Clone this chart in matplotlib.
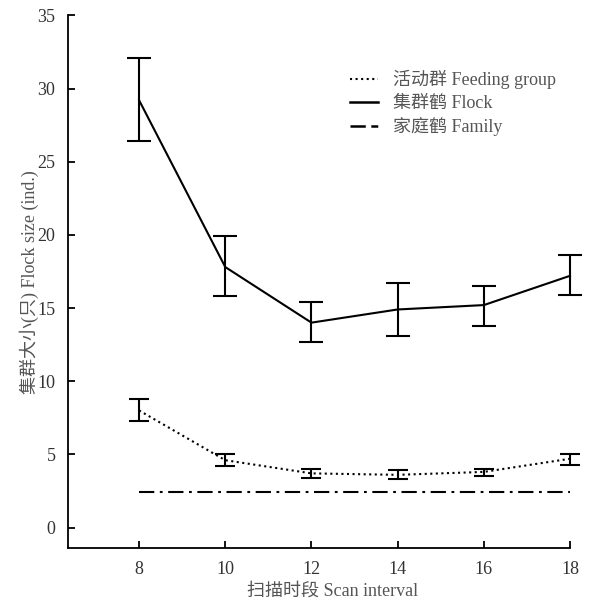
import matplotlib
matplotlib.use("Agg")
import matplotlib.pyplot as plt
from matplotlib.lines import Line2D

plt.rcParams['font.family'] = ['Liberation Serif', 'Noto Sans CJK SC', 'DejaVu Sans']
plt.rcParams['lines.scale_dashes'] = False

scan = [8, 10, 12, 14, 16, 18]
flock_mean = [29.2, 17.8, 14.0, 14.9, 15.2, 17.2]
flock_hi = [32.1, 19.9, 15.4, 16.7, 16.5, 18.6]
flock_lo = [26.4, 15.8, 12.7, 13.1, 13.8, 15.9]
feed_mean = [8.0, 4.6, 3.7, 3.6, 3.8, 4.7]
feed_hi = [8.8, 5.0, 4.0, 3.9, 4.0, 5.0]
feed_lo = [7.3, 4.2, 3.4, 3.3, 3.5, 4.3]
family = [2.4, 2.4, 2.4, 2.4, 2.4, 2.4]

xticks = [8, 10, 12, 14, 16, 18]
yticks = [0, 5, 10, 15, 20, 25, 30, 35]

fig = plt.figure(figsize=(5.91, 6.06), dpi=100)
ax = fig.add_axes([0.115, 0.0957, 0.8495, 0.879])

def err(m, hi, lo):
    return [[a - b for a, b in zip(m, lo)], [b - a for a, b in zip(m, hi)]]

ax.errorbar(scan, flock_mean, yerr=err(flock_mean, flock_hi, flock_lo),
            color='black', lw=1.5, elinewidth=1.5, capsize=8.5, capthick=1.5,
            clip_on=False)
ax.errorbar(scan, feed_mean, yerr=err(feed_mean, feed_hi, feed_lo),
            color='black', lw=1.5, ls=(0, (1.5, 2.5)), elinewidth=1.5,
            capsize=7.5, capthick=1.5, clip_on=False)
ax.plot(scan, family, color='black', lw=1.5, ls=(0, (11, 4, 2, 4)), clip_on=False)

ax.set_xlim(6.35, 18)
ax.set_ylim(-1.4, 35)
ax.set_xticks(xticks)
ax.set_yticks(yticks)
ax.spines['top'].set_visible(False)
ax.spines['right'].set_visible(False)
for s in ['left', 'bottom']:
    ax.spines[s].set_linewidth(1.3)
ax.tick_params(direction='in', length=5, width=1.3, labelsize=13,
               labelcolor='#333333')
ax.tick_params(axis='y', pad=9)
ax.tick_params(axis='x', pad=9)

ax.set_xlabel('扫描时段 Scan interval', fontsize=13, color='#555555', labelpad=4)
ax.xaxis.label.set_x(0.527)
ax.set_ylabel('集群大小(只) Flock size (ind.)', fontsize=13, color='#555555', labelpad=-1)

handles = [Line2D([], [], color='black', lw=1.5, ls=(0, (1.5, 2.5))),
           Line2D([], [], color='black', lw=1.8),
           Line2D([], [], color='black', lw=1.8, ls=(0, (11, 4, 5, 4)))]
labels = ['活动群 Feeding group', '集群鹤 Flock', '家庭鹤 Family']
leg = ax.legend(handles, labels, loc='upper left', bbox_to_anchor=(0.562, 0.897),
                frameon=False, fontsize=13, handlelength=1.55, handletextpad=0.85,
                labelspacing=0.3, borderpad=0, borderaxespad=0)
for t in leg.get_texts():
    t.set_color('#555555')

fig.savefig('out.png', dpi=100)
